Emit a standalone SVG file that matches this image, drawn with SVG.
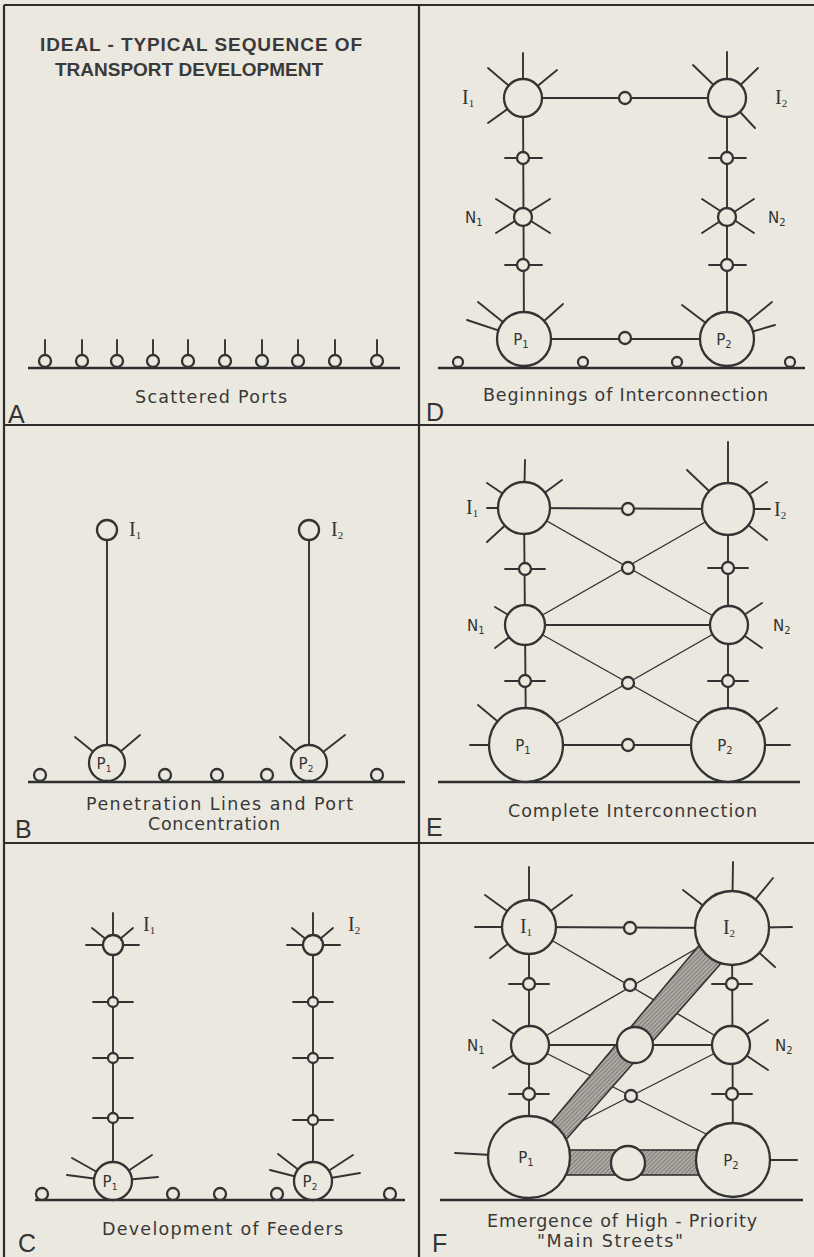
<svg xmlns="http://www.w3.org/2000/svg" width="814" height="1257" viewBox="0 0 814 1257">
<style>
.ln{stroke:#333;stroke-width:1.9;fill:none;stroke-linecap:round}
.th{stroke:#333;stroke-width:1.4;fill:none}
.nd{stroke:#333;stroke-width:2.3;fill:#ebe8e0}
.gd{stroke:#2e2e2e;stroke-width:2.4}
.bd{stroke:#2e2e2e;stroke-width:2.2;fill:none}
.cap{font-family:"DejaVu Sans","Liberation Sans",sans-serif;font-size:17.5px;fill:#383838}
.ttl{font-family:"Liberation Sans",Arial,sans-serif;font-size:19px;font-weight:bold;fill:#3a3a3a}
.pl{font-family:"Liberation Sans",Arial,sans-serif;font-size:25px;fill:#333}
.sl{font-family:"Liberation Serif","Times New Roman",serif;font-size:20px;fill:#333}
.nl{font-family:"DejaVu Sans","Liberation Sans",sans-serif;font-size:15px;fill:#333}
.band{fill:url(#hatch);stroke:#333;stroke-width:1.6}
</style>
<defs>
<pattern id="hatch" patternUnits="userSpaceOnUse" width="3" height="3" patternTransform="rotate(45)">
<rect width="3" height="3" fill="#aeaba4"/>
<line x1="0" y1="0" x2="0" y2="3" stroke="#505050" stroke-width="1"/>
</pattern>
</defs>
<rect width="814" height="1257" fill="#ebe8e0"/>

<g id="frame">
<line class="bd" x1="4" y1="5" x2="814" y2="5"/>
<line class="bd" x1="4" y1="5" x2="4" y2="1257"/>
<line class="bd" x1="419" y1="5" x2="419" y2="1257"/>
<line class="bd" x1="4" y1="425" x2="814" y2="425"/>
<line class="bd" x1="4" y1="843" x2="814" y2="843"/>
</g>

<!-- ================= Panel A ================= -->
<g id="panelA">
<text class="ttl" x="40" y="51" textLength="322" lengthAdjust="spacing">IDEAL - TYPICAL  SEQUENCE  OF</text>
<text class="ttl" x="55" y="76" textLength="268" lengthAdjust="spacing">TRANSPORT  DEVELOPMENT</text>
<line class="gd" x1="28" y1="368" x2="400" y2="368"/>
<g id="A-ports">
<line class="ln" x1="45" y1="340" x2="45" y2="355"/><circle class="nd" cx="45" cy="361" r="6"/>
<line class="ln" x1="82" y1="340" x2="82" y2="355"/><circle class="nd" cx="82" cy="361" r="6"/>
<line class="ln" x1="117" y1="340" x2="117" y2="355"/><circle class="nd" cx="117" cy="361" r="6"/>
<line class="ln" x1="153" y1="340" x2="153" y2="355"/><circle class="nd" cx="153" cy="361" r="6"/>
<line class="ln" x1="188" y1="340" x2="188" y2="355"/><circle class="nd" cx="188" cy="361" r="6"/>
<line class="ln" x1="225" y1="340" x2="225" y2="355"/><circle class="nd" cx="225" cy="361" r="6"/>
<line class="ln" x1="262" y1="340" x2="262" y2="355"/><circle class="nd" cx="262" cy="361" r="6"/>
<line class="ln" x1="298" y1="340" x2="298" y2="355"/><circle class="nd" cx="298" cy="361" r="6"/>
<line class="ln" x1="335" y1="340" x2="335" y2="355"/><circle class="nd" cx="335" cy="361" r="6"/>
<line class="ln" x1="377" y1="340" x2="377" y2="355"/><circle class="nd" cx="377" cy="361" r="6"/>
</g>
<text class="cap" x="135" y="403" textLength="152" lengthAdjust="spacing">Scattered Ports</text>
<text class="pl" x="8" y="423">A</text>
</g>

<!-- ================= Panel B ================= -->
<g id="panelB">
<g id="B-edges">
<line class="ln" x1="107" y1="530" x2="107" y2="763"/>
<line class="ln" x1="309" y1="530" x2="309" y2="763"/>
<line class="ln" x1="107" y1="763" x2="75" y2="737"/>
<line class="ln" x1="107" y1="763" x2="140" y2="735"/>
<line class="ln" x1="309" y1="763" x2="280" y2="737"/>
<line class="ln" x1="309" y1="763" x2="345" y2="735"/>
</g>
<line class="gd" x1="28" y1="782" x2="405" y2="782"/>
<g id="B-I1"><circle class="nd" cx="107" cy="530" r="10"/><text class="sl" x="129" y="536">I<tspan font-size="11" dy="3">1</tspan></text></g>
<g id="B-I2"><circle class="nd" cx="309" cy="530" r="10"/><text class="sl" x="331" y="536">I<tspan font-size="11" dy="3">2</tspan></text></g>
<g id="B-P1"><circle class="nd" cx="107" cy="763" r="18"/><text class="nl" x="104" y="769" text-anchor="middle" font-size="14">P<tspan font-size="9" dy="3">1</tspan></text></g>
<g id="B-P2"><circle class="nd" cx="309" cy="763" r="18"/><text class="nl" x="306" y="769" text-anchor="middle" font-size="14">P<tspan font-size="9" dy="3">2</tspan></text></g>
<g id="B-ports">
<circle class="nd" cx="40" cy="775" r="6"/>
<circle class="nd" cx="165" cy="775" r="6"/>
<circle class="nd" cx="217" cy="775" r="6"/>
<circle class="nd" cx="267" cy="775" r="6"/>
<circle class="nd" cx="377" cy="775" r="6"/>
</g>
<text class="cap" x="86" y="810" textLength="267" lengthAdjust="spacing">Penetration  Lines and  Port</text>
<text class="cap" x="148" y="830" textLength="132" lengthAdjust="spacing">Concentration</text>
<text class="pl" x="15" y="838">B</text>
</g>

<!-- ================= Panel C ================= -->
<g id="panelC">
<g id="C-edges">
<line class="ln" x1="113" y1="945" x2="113" y2="1181"/>
<line class="ln" x1="313" y1="945" x2="313" y2="1181"/>
<line class="ln" x1="113" y1="945" x2="113" y2="913"/>
<line class="ln" x1="113" y1="945" x2="92" y2="928"/>
<line class="ln" x1="113" y1="945" x2="133" y2="928"/>
<line class="ln" x1="86" y1="945" x2="139" y2="945"/>
<line class="ln" x1="313" y1="945" x2="313" y2="913"/>
<line class="ln" x1="313" y1="945" x2="292" y2="928"/>
<line class="ln" x1="313" y1="945" x2="333" y2="928"/>
<line class="ln" x1="287" y1="945" x2="340" y2="945"/>
<line class="ln" x1="93" y1="1002" x2="133" y2="1002"/>
<line class="ln" x1="93" y1="1058" x2="133" y2="1058"/>
<line class="ln" x1="93" y1="1118" x2="133" y2="1118"/>
<line class="ln" x1="293" y1="1002" x2="333" y2="1002"/>
<line class="ln" x1="293" y1="1058" x2="333" y2="1058"/>
<line class="ln" x1="293" y1="1120" x2="333" y2="1120"/>
<line class="ln" x1="113" y1="1181" x2="72" y2="1158"/>
<line class="ln" x1="113" y1="1181" x2="67" y2="1175"/>
<line class="ln" x1="113" y1="1181" x2="152" y2="1155"/>
<line class="ln" x1="113" y1="1181" x2="158" y2="1177"/>
<line class="ln" x1="313" y1="1181" x2="278" y2="1154"/>
<line class="ln" x1="313" y1="1181" x2="270" y2="1170"/>
<line class="ln" x1="313" y1="1181" x2="353" y2="1155"/>
<line class="ln" x1="313" y1="1181" x2="360" y2="1173"/>
</g>
<line class="gd" x1="35" y1="1200" x2="405" y2="1200"/>
<g id="C-I1"><circle class="nd" cx="113" cy="945" r="10"/><text class="sl" x="143" y="931">I<tspan font-size="11" dy="3">1</tspan></text></g>
<g id="C-I2"><circle class="nd" cx="313" cy="945" r="10"/><text class="sl" x="348" y="931">I<tspan font-size="11" dy="3">2</tspan></text></g>
<g id="C-f1">
<circle class="nd" cx="113" cy="1002" r="5"/><circle class="nd" cx="113" cy="1058" r="5"/><circle class="nd" cx="113" cy="1118" r="5"/>
</g>
<g id="C-f2">
<circle class="nd" cx="313" cy="1002" r="5"/><circle class="nd" cx="313" cy="1058" r="5"/><circle class="nd" cx="313" cy="1120" r="5"/>
</g>
<g id="C-P1"><circle class="nd" cx="113" cy="1181" r="19"/><text class="nl" x="110" y="1187" text-anchor="middle" font-size="14">P<tspan font-size="9" dy="3">1</tspan></text></g>
<g id="C-P2"><circle class="nd" cx="313" cy="1181" r="19"/><text class="nl" x="310" y="1187" text-anchor="middle" font-size="14">P<tspan font-size="9" dy="3">2</tspan></text></g>
<g id="C-ports">
<circle class="nd" cx="42" cy="1194" r="6"/>
<circle class="nd" cx="173" cy="1194" r="6"/>
<circle class="nd" cx="220" cy="1194" r="6"/>
<circle class="nd" cx="277" cy="1194" r="6"/>
<circle class="nd" cx="390" cy="1194" r="6"/>
</g>
<text class="cap" x="102" y="1235" textLength="241" lengthAdjust="spacing">Development  of  Feeders</text>
<text class="pl" x="18" y="1252">C</text>
</g>

<!-- ================= Panel D ================= -->
<g id="panelD">
<g id="D-edges">
<line class="ln" x1="523" y1="98" x2="727" y2="98"/>
<line class="ln" x1="523" y1="98" x2="524" y2="339"/>
<line class="ln" x1="727" y1="98" x2="727" y2="339"/>
<line class="ln" x1="524" y1="339" x2="727" y2="339"/>
<line class="ln" x1="523" y1="98" x2="523" y2="53"/>
<line class="ln" x1="523" y1="98" x2="488" y2="68"/>
<line class="ln" x1="523" y1="98" x2="557" y2="70"/>
<line class="ln" x1="523" y1="98" x2="488" y2="123"/>
<line class="ln" x1="727" y1="98" x2="727" y2="52"/>
<line class="ln" x1="727" y1="98" x2="693" y2="65"/>
<line class="ln" x1="727" y1="98" x2="758" y2="68"/>
<line class="ln" x1="727" y1="98" x2="755" y2="128"/>
<line class="ln" x1="505" y1="158" x2="542" y2="158"/>
<line class="ln" x1="505" y1="265" x2="542" y2="265"/>
<line class="ln" x1="709" y1="158" x2="746" y2="158"/>
<line class="ln" x1="709" y1="265" x2="746" y2="265"/>
<line class="ln" x1="496" y1="199" x2="550" y2="233"/>
<line class="ln" x1="550" y1="199" x2="496" y2="233"/>
<line class="ln" x1="702" y1="199" x2="754" y2="233"/>
<line class="ln" x1="754" y1="199" x2="702" y2="233"/>
<line class="ln" x1="524" y1="339" x2="478" y2="302"/>
<line class="ln" x1="524" y1="339" x2="467" y2="320"/>
<line class="ln" x1="524" y1="339" x2="563" y2="304"/>
<line class="ln" x1="727" y1="339" x2="682" y2="305"/>
<line class="ln" x1="727" y1="339" x2="772" y2="302"/>
<line class="ln" x1="727" y1="339" x2="775" y2="325"/>
</g>
<line class="gd" x1="438" y1="368" x2="805" y2="368"/>
<g id="D-I1"><circle class="nd" cx="523" cy="98" r="19"/><text class="sl" x="462" y="104">I<tspan font-size="11" dy="3">1</tspan></text></g>
<g id="D-I2"><circle class="nd" cx="727" cy="98" r="19"/><text class="sl" x="775" y="104">I<tspan font-size="11" dy="3">2</tspan></text></g>
<g id="D-m1"><circle class="nd" cx="625" cy="98" r="6"/></g>
<g id="D-a1"><circle class="nd" cx="523" cy="158" r="6"/></g>
<g id="D-b1"><circle class="nd" cx="523" cy="265" r="6"/></g>
<g id="D-a2"><circle class="nd" cx="727" cy="158" r="6"/></g>
<g id="D-b2"><circle class="nd" cx="727" cy="265" r="6"/></g>
<g id="D-N1"><circle class="nd" cx="523" cy="217" r="9"/><text class="nl" x="465" y="223">N<tspan font-size="10" dy="3">1</tspan></text></g>
<g id="D-N2"><circle class="nd" cx="727" cy="217" r="9"/><text class="nl" x="768" y="223">N<tspan font-size="10" dy="3">2</tspan></text></g>
<g id="D-P1"><circle class="nd" cx="524" cy="339" r="27"/><text class="nl" x="521" y="345" text-anchor="middle">P<tspan font-size="10" dy="3">1</tspan></text></g>
<g id="D-P2"><circle class="nd" cx="727" cy="339" r="27"/><text class="nl" x="724" y="345" text-anchor="middle">P<tspan font-size="10" dy="3">2</tspan></text></g>
<g id="D-m2"><circle class="nd" cx="625" cy="338" r="6"/></g>
<g id="D-ports">
<circle class="nd" cx="458" cy="362" r="5"/>
<circle class="nd" cx="583" cy="362" r="5"/>
<circle class="nd" cx="677" cy="362" r="5"/>
<circle class="nd" cx="790" cy="362" r="5"/>
</g>
<text class="cap" x="483" y="401" textLength="285" lengthAdjust="spacing">Beginnings  of  Interconnection</text>
<text class="pl" x="426" y="421">D</text>
</g>

<!-- ================= Panel E ================= -->
<g id="panelE">
<g id="E-edges">
<line class="ln" x1="524" y1="508" x2="728" y2="509"/>
<line class="ln" x1="524" y1="508" x2="526" y2="745"/>
<line class="ln" x1="728" y1="509" x2="728" y2="745"/>
<line class="ln" x1="525" y1="625" x2="729" y2="625"/>
<line class="ln" x1="526" y1="745" x2="728" y2="745"/>
<line class="th" x1="524" y1="508" x2="729" y2="625"/>
<line class="th" x1="728" y1="509" x2="525" y2="625"/>
<line class="th" x1="525" y1="625" x2="728" y2="739"/>
<line class="th" x1="729" y1="625" x2="526" y2="741"/>
<line class="ln" x1="524" y1="508" x2="525" y2="460"/>
<line class="ln" x1="524" y1="508" x2="487" y2="483"/>
<line class="ln" x1="524" y1="508" x2="562" y2="480"/>
<line class="ln" x1="524" y1="508" x2="487" y2="508"/>
<line class="ln" x1="524" y1="508" x2="487" y2="542"/>
<line class="ln" x1="728" y1="509" x2="728" y2="442"/>
<line class="ln" x1="728" y1="509" x2="687" y2="470"/>
<line class="ln" x1="728" y1="509" x2="767" y2="482"/>
<line class="ln" x1="728" y1="509" x2="770" y2="509"/>
<line class="ln" x1="728" y1="509" x2="767" y2="540"/>
<line class="ln" x1="505" y1="569" x2="545" y2="569"/>
<line class="ln" x1="505" y1="681" x2="545" y2="681"/>
<line class="ln" x1="708" y1="568" x2="748" y2="568"/>
<line class="ln" x1="708" y1="681" x2="748" y2="681"/>
<line class="ln" x1="525" y1="625" x2="495" y2="607"/>
<line class="ln" x1="525" y1="625" x2="495" y2="648"/>
<line class="ln" x1="729" y1="625" x2="762" y2="603"/>
<line class="ln" x1="729" y1="625" x2="762" y2="648"/>
<line class="ln" x1="526" y1="745" x2="478" y2="705"/>
<line class="ln" x1="526" y1="745" x2="470" y2="745"/>
<line class="ln" x1="728" y1="745" x2="777" y2="708"/>
<line class="ln" x1="728" y1="745" x2="790" y2="745"/>
</g>
<line class="gd" x1="438" y1="782" x2="800" y2="782"/>
<g id="E-I1"><circle class="nd" cx="524" cy="508" r="26"/><text class="sl" x="466" y="514">I<tspan font-size="11" dy="3">1</tspan></text></g>
<g id="E-I2"><circle class="nd" cx="728" cy="509" r="26"/><text class="sl" x="774" y="516">I<tspan font-size="11" dy="3">2</tspan></text></g>
<g id="E-m1"><circle class="nd" cx="628" cy="509" r="6"/></g>
<g id="E-x1"><circle class="nd" cx="628" cy="568" r="6"/></g>
<g id="E-x2"><circle class="nd" cx="628" cy="683" r="6"/></g>
<g id="E-a1"><circle class="nd" cx="525" cy="569" r="6"/></g>
<g id="E-b1"><circle class="nd" cx="525" cy="681" r="6"/></g>
<g id="E-a2"><circle class="nd" cx="728" cy="568" r="6"/></g>
<g id="E-b2"><circle class="nd" cx="728" cy="681" r="6"/></g>
<g id="E-N1"><circle class="nd" cx="525" cy="625" r="20"/><text class="nl" x="467" y="631">N<tspan font-size="10" dy="3">1</tspan></text></g>
<g id="E-N2"><circle class="nd" cx="729" cy="625" r="19"/><text class="nl" x="773" y="631">N<tspan font-size="10" dy="3">2</tspan></text></g>
<g id="E-P1"><circle class="nd" cx="526" cy="745" r="37"/><text class="nl" x="523" y="751" text-anchor="middle">P<tspan font-size="10" dy="3">1</tspan></text></g>
<g id="E-P2"><circle class="nd" cx="728" cy="745" r="37"/><text class="nl" x="725" y="751" text-anchor="middle">P<tspan font-size="10" dy="3">2</tspan></text></g>
<g id="E-m2"><circle class="nd" cx="628" cy="745" r="6"/></g>
<text class="cap" x="508" y="817" textLength="249" lengthAdjust="spacing">Complete  Interconnection</text>
<text class="pl" x="426" y="836">E</text>
</g>

<!-- ================= Panel F ================= -->
<g id="panelF">
<g id="F-edges">
<line class="ln" x1="529" y1="927" x2="732" y2="928"/>
<line class="ln" x1="529" y1="927" x2="529" y2="1157"/>
<line class="ln" x1="732" y1="928" x2="733" y2="1160"/>
<line class="ln" x1="530" y1="1045" x2="731" y2="1045"/>
<line class="th" x1="529" y1="927" x2="731" y2="1045"/>
<line class="th" x1="732" y1="928" x2="530" y2="1045"/>
<line class="th" x1="530" y1="1045" x2="710" y2="1136"/>
<line class="th" x1="731" y1="1045" x2="535" y2="1145"/>
<line class="ln" x1="529" y1="927" x2="529" y2="867"/>
<line class="ln" x1="529" y1="927" x2="485" y2="895"/>
<line class="ln" x1="529" y1="927" x2="572" y2="895"/>
<line class="ln" x1="529" y1="927" x2="475" y2="927"/>
<line class="ln" x1="529" y1="927" x2="490" y2="958"/>
<line class="ln" x1="732" y1="928" x2="733" y2="862"/>
<line class="ln" x1="732" y1="928" x2="683" y2="890"/>
<line class="ln" x1="732" y1="928" x2="773" y2="878"/>
<line class="ln" x1="732" y1="928" x2="792" y2="927"/>
<line class="ln" x1="732" y1="928" x2="775" y2="967"/>
<line class="ln" x1="509" y1="984" x2="549" y2="984"/>
<line class="ln" x1="509" y1="1094" x2="549" y2="1094"/>
<line class="ln" x1="712" y1="984" x2="752" y2="984"/>
<line class="ln" x1="712" y1="1094" x2="752" y2="1094"/>
<line class="ln" x1="530" y1="1045" x2="493" y2="1020"/>
<line class="ln" x1="530" y1="1045" x2="493" y2="1068"/>
<line class="ln" x1="731" y1="1045" x2="768" y2="1020"/>
<line class="ln" x1="731" y1="1045" x2="768" y2="1070"/>
<line class="ln" x1="529" y1="1157" x2="455" y2="1153"/>
<line class="ln" x1="733" y1="1160" x2="797" y2="1160"/>
</g>
<g id="F-mainstreets">
<rect class="band" x="560" y="1150" width="145" height="25"/>
<polygon class="band" points="539,1137 706,937 731,952 556,1151"/>
</g>
<line class="gd" x1="440" y1="1200" x2="803" y2="1200"/>
<g id="F-I1"><circle class="nd" cx="529" cy="927" r="27"/><text class="sl" x="526" y="933" text-anchor="middle">I<tspan font-size="11" dy="3">1</tspan></text></g>
<g id="F-I2"><circle class="nd" cx="732" cy="928" r="37"/><text class="sl" x="729" y="934" text-anchor="middle">I<tspan font-size="11" dy="3">2</tspan></text></g>
<g id="F-m1"><circle class="nd" cx="630" cy="928" r="6"/></g>
<g id="F-x1"><circle class="nd" cx="630" cy="985" r="6"/></g>
<g id="F-x2"><circle class="nd" cx="631" cy="1096" r="6"/></g>
<g id="F-a1"><circle class="nd" cx="529" cy="984" r="6"/></g>
<g id="F-b1"><circle class="nd" cx="529" cy="1094" r="6"/></g>
<g id="F-a2"><circle class="nd" cx="732" cy="984" r="6"/></g>
<g id="F-b2"><circle class="nd" cx="732" cy="1094" r="6"/></g>
<g id="F-N1"><circle class="nd" cx="530" cy="1045" r="19"/><text class="nl" x="467" y="1051">N<tspan font-size="10" dy="3">1</tspan></text></g>
<g id="F-C"><circle class="nd" cx="635" cy="1045" r="18"/></g>
<g id="F-N2"><circle class="nd" cx="731" cy="1045" r="19"/><text class="nl" x="775" y="1051">N<tspan font-size="10" dy="3">2</tspan></text></g>
<g id="F-P1"><circle class="nd" cx="529" cy="1157" r="41"/><text class="nl" x="526" y="1163" text-anchor="middle">P<tspan font-size="10" dy="3">1</tspan></text></g>
<g id="F-P2"><circle class="nd" cx="733" cy="1160" r="37"/><text class="nl" x="731" y="1166" text-anchor="middle">P<tspan font-size="10" dy="3">2</tspan></text></g>
<g id="F-m2"><circle class="nd" cx="628" cy="1163" r="17"/></g>
<text class="cap" x="487" y="1227" textLength="270" lengthAdjust="spacing">Emergence  of  High - Priority</text>
<text class="cap" x="537" y="1247" textLength="146" lengthAdjust="spacing">"Main  Streets"</text>
<text class="pl" x="432" y="1252">F</text>
</g>
</svg>
